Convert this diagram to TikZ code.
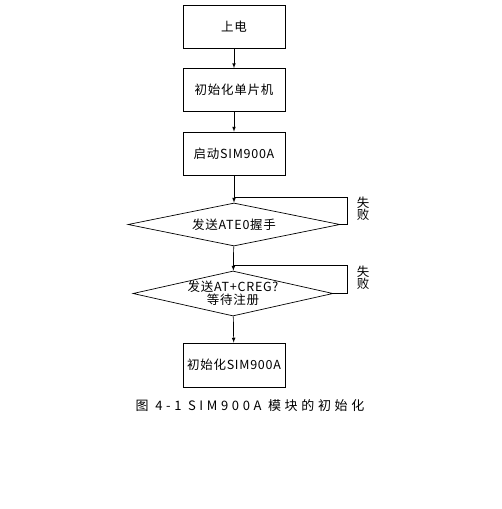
\documentclass[tikz,border=0pt]{standalone}
\usepackage{fontspec}
\setmainfont{Noto Sans CJK SC}[LetterSpace=6]
\usetikzlibrary{shapes,arrows}

\tikzset{
  box/.style={draw, line width=.7pt, minimum width=102pt, minimum height=43pt, inner sep=0pt},
  test/.style={draw, line width=.7pt, diamond, aspect=4.3, inner sep=0pt, align=center},
  link/.style={line width=.7pt}
}

\begin{document}
\begin{tikzpicture}[x=1pt, y=-1pt, font=\fontsize{12.5}{14}\selectfont, >=latex]
			\useasboundingbox (0,0) rectangle (502,509);
			\node[box] (power) at (234,26.5) {上电};
			\node[box] (initmcu) at (234,90) {初始化单片机};
			\node[box] (boot) at (234,153.5) {启动SIM900A};
			\node[test, minimum width=212pt, minimum height=43pt] (handshake) at (234,224.5) {发送ATE0握手};
			\node[test, minimum width=200pt, minimum height=45pt, inner sep=-5pt] (register) at (233,293.5) {发送AT+CREG?\\[-1pt]等待注册};
			\node[box, minimum height=44pt] (initsim) at (234,365) {初始化SIM900A};
			\node (caption) at (250,406) {\fontsize{13}{14}\selectfont\addfontfeature{LetterSpace=28}图 4-1 SIM900A 模块的初始化};
			\coordinate (backa) at (347,197);
			\coordinate (backb) at (347,265);
			\node[align=center, inner sep=0pt] (faila) at (363,209) {失\\[-2pt]败};
			\node[align=center, inner sep=0pt] (failb) at (363,278) {失\\[-2pt]败};
			\draw[link, ->] (power) -- (initmcu);
			\draw[link, ->] (initmcu) -- (boot);
			\draw[link, ->] (boot) -- (handshake);
			\draw[link, ->] (handshake) -- (register);
			\draw[link, ->] (register) -- (initsim);
			\draw[link] (handshake.east) -| (backa) -- (backa -| handshake.north);
			\draw[link] (register.east) -| (backb) -- (backb -| handshake.north);
		\end{tikzpicture}
\end{document}
